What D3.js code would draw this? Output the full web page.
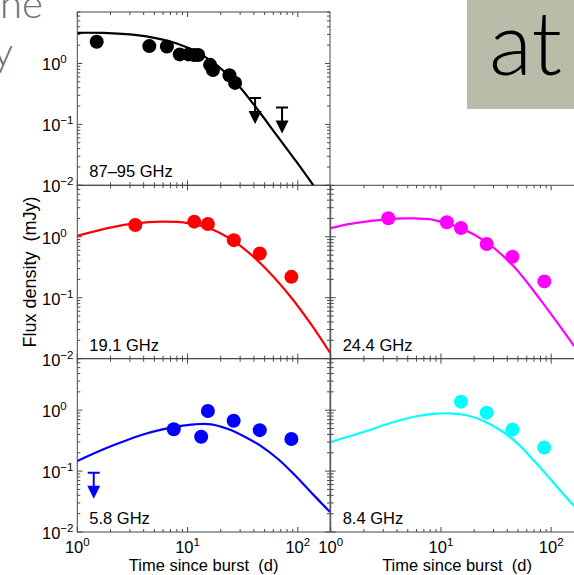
<!DOCTYPE html>
<html>
<head>
<meta charset="utf-8">
<script src="https://cdn.jsdelivr.net/npm/d3@7"></script>
<style>
  body { margin: 0; background: #fff; }
  svg { display: block; }
  .pre { white-space: pre; }
</style>
</head>
<body>
<svg id="chart" width="574" height="575"></svg>
<script>
// ---- band names and colours ----
const bandNames  = ["87–95 GHz", "19.1 GHz", "24.4 GHz", "5.8 GHz", "8.4 GHz"];
const bandColors = ["#000000", "#ff0000", "#ff00ff", "#0000ff", "#00ffff"];

// ---- measured fluxes (days since burst, mJy) ----
const daysMm   = [1.5, 4.5, 6.5, 8.5, 10.2, 11.5, 12.5, 16, 17, 24, 27];
const fluxMm   = [2.27, 1.93, 1.9, 1.41, 1.41, 1.38, 1.38, 0.95, 0.78, 0.64, 0.48];
const days191  = [3.36, 11.5, 15.3, 26.3, 45.2, 87.5];
const flux191  = [1.56, 1.77, 1.62, 0.88, 0.53, 0.22];
const days244  = [3.33, 11.3, 15.2, 26, 44.5, 86.7];
const flux244  = [2.01, 1.73, 1.39, 0.76, 0.47, 0.185];
const days58   = [7.5, 13.3, 15.3, 26.2, 45.2, 87.5];
const flux58   = [0.485, 0.367, 0.97, 0.67, 0.47, 0.336];
const days84   = [15.2, 26, 44.5, 86.3];
const flux84   = [1.38, 0.91, 0.48, 0.243];

// ---- upper limits ----
const limDaysMm = [41, 72];
const limFluxMm = [0.27, 0.19];
const limDays58 = [1.41];
const limFlux58 = [0.094];

// ---- model light curves ----
const modelDaysMm  = [1, 1.72, 3.46, 5.25, 7.98, 12.1, 18.4, 27.9, 42.5, 64.5, 97.9, 138.6];
const modelFluxMm  = [3.19, 3.17, 2.92, 2.58, 2.13, 1.55, 0.94, 0.47, 0.182, 0.066, 0.024, 0.01];
const modelDays191 = [1, 2.04, 3.36, 5.78, 10.1, 16.4, 28.7, 50.1, 87.5, 132.8, 196];
const modelFlux191 = [1.04, 1.43, 1.66, 1.77, 1.68, 1.34, 0.76, 0.314, 0.1, 0.036, 0.0125];
const modelDays244 = [1, 1.6, 3.33, 5.24, 8.53, 15, 26, 45.4, 79.3, 120, 161.5];
const modelFlux244 = [1.39, 1.66, 1.95, 2.0, 1.9, 1.4, 0.81, 0.33, 0.094, 0.034, 0.016];
const modelDays58  = [1, 1.44, 2.04, 2.89, 4.09, 5.79, 8.2, 11.6, 16.4, 23.3, 33, 46.8, 66.2, 93.9, 133, 195];
const modelFlux58  = [0.146, 0.198, 0.258, 0.328, 0.406, 0.479, 0.543, 0.586, 0.586, 0.491, 0.367, 0.255, 0.158, 0.0861, 0.0441, 0.0215];
const modelDays84  = [1, 1.5, 2.12, 3.0, 4.25, 6.03, 8.53, 12.1, 17.1, 24.3, 34.4, 48.7, 69, 97.7, 138.4, 161.5];
const modelFlux84  = [0.3, 0.377, 0.455, 0.565, 0.682, 0.794, 0.867, 0.889, 0.824, 0.665, 0.473, 0.293, 0.152, 0.0749, 0.0365, 0.0266];

// ---- axis settings ----
const xDomain = [1, 196];
const yDomain = [0.01, 7];
const xTickValues = [1, 10, 100];
const xTickExps   = ["0", "1", "2"];
const yTickValues = [1, 0.1, 0.01];
const yTickExps   = ["0", "−1", "−2"];
const xTitle = "Time since burst  (d)";
const yTitle = "Flux density  (mJy)";

const zip = (a, b) => a.map((v, i) => ({ t: v, f: b[i] }));

const panels = [
  { col: 0, row: 0, name: bandNames[0], color: bandColors[0], pts: zip(daysMm, fluxMm),   model: zip(modelDaysMm, modelFluxMm),   lims: zip(limDaysMm, limFluxMm) },
  { col: 0, row: 1, name: bandNames[1], color: bandColors[1], pts: zip(days191, flux191), model: zip(modelDays191, modelFlux191), lims: [] },
  { col: 1, row: 1, name: bandNames[2], color: bandColors[2], pts: zip(days244, flux244), model: zip(modelDays244, modelFlux244), lims: [] },
  { col: 0, row: 2, name: bandNames[3], color: bandColors[3], pts: zip(days58, flux58),   model: zip(modelDays58, modelFlux58),   lims: zip(limDays58, limFlux58) },
  { col: 1, row: 2, name: bandNames[4], color: bandColors[4], pts: zip(days84, flux84),   model: zip(modelDays84, modelFlux84),   lims: [] }
];

// ---- geometry ----
const colX = [77.3, 330.7];
const panelW = 252.7;
const rowY = [12, 185.3, 358.7];
const panelH = 173.3;
const axisColor = "#484848";
const font = "'Liberation Sans', Arial, Helvetica, sans-serif";
const slideFont = "Lato, 'DejaVu Sans', sans-serif";

const svg = d3.select("#chart");

// slide text sitting behind the figure
svg.append("text").attr("x", 0).attr("y", 18)
  .attr("font-family", slideFont).attr("font-weight", 300)
  .attr("font-size", 40).attr("fill", "#6e6e6e").text("ne");
svg.append("text").attr("x", -7).attr("y", 66)
  .attr("font-family", slideFont).attr("font-weight", 300)
  .attr("font-size", 40).attr("fill", "#6e6e6e").text("y");
svg.append("rect").attr("x", 467).attr("y", 0).attr("width", 107).attr("height", 109)
  .attr("fill", "#b9bca9");
svg.append("text").attr("x", 489).attr("y", 75)
  .attr("font-family", slideFont).attr("font-weight", 300)
  .attr("font-size", 89).attr("fill", "#000").text("at");

function minorTicks(lo, hi) {
  const out = [];
  for (let e = Math.floor(Math.log10(lo)); e <= Math.ceil(Math.log10(hi)); e++) {
    for (let m = 1; m <= 9; m++) {
      const v = m * Math.pow(10, e);
      if (v >= lo * 0.999 && v <= hi * 1.001) out.push({ v, major: m === 1 });
    }
  }
  return out;
}

function powerLabel(sel, exp) {
  sel.append("tspan").text("10");
  sel.append("tspan").attr("font-size", 11.5).attr("dy", -7).text(exp);
}

panels.forEach(p => {
  const x0 = colX[p.col], y0 = rowY[p.row];
  const x = d3.scaleLog().domain(xDomain).range([x0, x0 + panelW]);
  const y = d3.scaleLog().domain(yDomain).range([y0 + panelH, y0]);
  const g = svg.append("g");

  const clipId = "clip" + p.col + p.row;
  g.append("clipPath").attr("id", clipId)
    .append("rect").attr("x", x0).attr("y", y0).attr("width", panelW).attr("height", panelH);

  // frame
  g.append("rect").attr("x", x0).attr("y", y0).attr("width", panelW).attr("height", panelH)
    .attr("fill", "none").attr("stroke", axisColor).attr("stroke-width", 1);

  // inward ticks on all four sides
  const tg = g.append("g").attr("stroke", axisColor).attr("stroke-width", 1);
  minorTicks(xDomain[0], xDomain[1]).forEach(d => {
    const len = d.major ? 5 : 3;
    const xx = x(d.v);
    tg.append("line").attr("x1", xx).attr("x2", xx).attr("y1", y0 + panelH).attr("y2", y0 + panelH - len);
    tg.append("line").attr("x1", xx).attr("x2", xx).attr("y1", y0).attr("y2", y0 + len);
  });
  minorTicks(yDomain[0], yDomain[1]).forEach(d => {
    const len = d.major ? 5 : 3;
    const yy = y(d.v);
    tg.append("line").attr("x1", x0).attr("x2", x0 + len).attr("y1", yy).attr("y2", yy);
    tg.append("line").attr("x1", x0 + panelW).attr("x2", x0 + panelW - len).attr("y1", yy).attr("y2", yy);
  });

  // y tick labels on the left column
  if (p.col === 0) {
    yTickValues.forEach((v, i) => {
      const t = g.append("text").attr("x", 42).attr("y", y(v) + 7)
        .attr("font-family", font).attr("font-size", 16.5).attr("fill", "#000");
      powerLabel(t, yTickExps[i]);
    });
  }
  // x tick labels and title on the bottom row
  if (p.row === 2) {
    xTickValues.forEach((v, i) => {
      const t = g.append("text").attr("x", x(v)).attr("y", 552.5).attr("text-anchor", "middle")
        .attr("font-family", font).attr("font-size", 16.5).attr("fill", "#000");
      powerLabel(t, xTickExps[i]);
    });
    g.append("text").attr("class", "pre").attr("x", x0 + panelW / 2).attr("y", 571)
      .attr("text-anchor", "middle")
      .attr("font-family", font).attr("font-size", 16.5).attr("fill", "#000").text(xTitle);
  }

  const inner = g.append("g").attr("clip-path", `url(#${clipId})`);

  // model curve
  const line = d3.line().x(d => x(d.t)).y(d => y(d.f)).curve(d3.curveCatmullRom.alpha(0.5));
  inner.append("path").datum(p.model).attr("d", line)
    .attr("fill", "none").attr("stroke", p.color).attr("stroke-width", 2.2);

  // detections
  inner.selectAll("circle.pt").data(p.pts).join("circle").attr("class", "pt")
    .attr("cx", d => x(d.t)).attr("cy", d => y(d.f)).attr("r", 7).attr("fill", p.color);

  // upper limits: cap, stem and downward arrow head
  p.lims.forEach(d => {
    const cx = x(d.t), cy = y(d.f);
    inner.append("line").attr("x1", cx - 6).attr("x2", cx + 6).attr("y1", cy).attr("y2", cy)
      .attr("stroke", p.color).attr("stroke-width", 2);
    inner.append("line").attr("x1", cx).attr("x2", cx).attr("y1", cy).attr("y2", cy + 14)
      .attr("stroke", p.color).attr("stroke-width", 2);
    inner.append("path")
      .attr("d", `M${cx - 6.5},${cy + 13} L${cx + 6.5},${cy + 13} L${cx},${cy + 26} Z`)
      .attr("fill", p.color);
  });

  // band label
  g.append("text").attr("x", x0 + 12).attr("y", y0 + panelH - 8)
    .attr("font-family", font).attr("font-size", 16.5).attr("fill", "#000").text(p.name);
});

// shared y title
svg.append("text").attr("class", "pre")
  .attr("transform", `translate(36, ${rowY[1] + panelH / 2}) rotate(-90)`)
  .attr("text-anchor", "middle").attr("font-family", font).attr("font-size", 18)
  .attr("fill", "#000").text(yTitle);
</script>
</body>
</html>
